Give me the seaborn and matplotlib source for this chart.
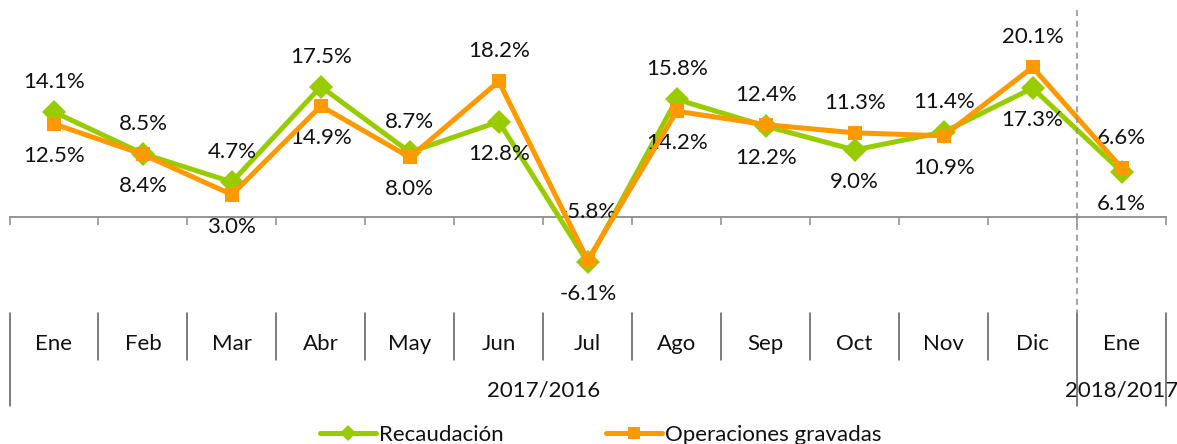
import matplotlib
matplotlib.use("Agg")
import matplotlib.pyplot as plt
import matplotlib.transforms as mtransforms
from matplotlib.lines import Line2D
import seaborn as sns
import pandas as pd

# Monthly year-on-year growth (%)
months = ["Ene", "Feb", "Mar", "Abr", "May", "Jun", "Jul",
          "Ago", "Sep", "Oct", "Nov", "Dic", "Ene"]
periods = ["2017/2016", "2018/2017"]
period_sizes = [12, 1]
recaudacion = [14.1, 8.5, 4.7, 17.5, 8.7, 12.8, -6.1, 15.8, 12.2, 9.0, 11.4, 17.3, 6.1]
operaciones = [12.5, 8.4, 3.0, 14.9, 8.0, 18.2, -5.8, 14.2, 12.4, 11.3, 10.9, 20.1, 6.6]

series_names = ["Recaudación", "Operaciones gravadas"]
green = "#99CC00"
orange = "#FF9900"
axis_grey = "#8C8C8C"
sep_grey = "#595959"
text_col = "#111111"

sns.set_theme(style="white")
plt.rcParams["font.family"] = ["Lato", "DejaVu Sans"]
FS = 16

W, H = 1177, 444
fig = plt.figure(figsize=(W / 100, H / 100), dpi=100)
ax = fig.add_axes([9.5 / W, (H - 300) / H, (1166 - 9.5) / W, 300 / H])

df = pd.DataFrame({
    "pos": list(range(len(months))),
    "rec": recaudacion,
    "ope": operaciones,
})

sns.lineplot(data=df, x="pos", y="rec", ax=ax, color=green, lw=3.6,
             marker="D", markersize=12, markeredgewidth=0,
             label=series_names[0], zorder=3)
sns.lineplot(data=df, x="pos", y="ope", ax=ax, color=orange, lw=3.6,
             marker="s", markersize=9.5, markeredgewidth=0,
             label=series_names[1], zorder=4)

n = len(months)
ax.set_xlim(-0.5, n - 0.5)
ax.set_ylim(-11.14, 29.13)

# Axis at zero with boundary ticks, no labels
for s in ["top", "right", "left"]:
    ax.spines[s].set_visible(False)
ax.spines["bottom"].set_position(("data", 0))
ax.spines["bottom"].set_color(axis_grey)
ax.spines["bottom"].set_linewidth(1.3)
ax.set_xticks([i - 0.5 for i in range(n + 1)])
ax.set_xticklabels([])
ax.tick_params(axis="x", direction="out", length=6, width=1.1,
               color=axis_grey, bottom=True)
ax.set_yticks([])
ax.set_xlabel("")
ax.set_ylabel("")

# Value labels: the higher value above its point, the lower one below;
# labels above negative points sit higher so they clear the line
for i in range(n):
    a, b = recaudacion[i], operaciones[i]
    hi, lo = (a, b) if a >= b else (b, a)
    up = 48 if hi < 0 else 30
    ax.annotate(f"{hi:.1f}%", (i, hi), xytext=(0, up), textcoords="offset pixels",
                ha="center", va="center", fontsize=FS, color=text_col)
    ax.annotate(f"{lo:.1f}%", (i, lo), xytext=(0, -32), textcoords="offset pixels",
                ha="center", va="center", fontsize=FS, color=text_col)

# Category table below the plot
tr = mtransforms.blended_transform_factory(ax.transData, fig.transFigure)
fy = lambda py: 1 - py / H
for i, m in enumerate(months):
    ax.text(i, fy(344), m, transform=tr, ha="center", va="center",
            fontsize=FS, color=text_col, clip_on=False)

# month separators
group_edges = [-0.5]
for sz in period_sizes:
    group_edges.append(group_edges[-1] + sz)
for k in range(n + 1):
    x = k - 0.5
    if x in group_edges:
        y0, y1 = fy(313), fy(406)
    else:
        y0, y1 = fy(313), fy(360)
    fig.add_artist(Line2D([x, x], [y0, y1], transform=tr, color=sep_grey, lw=1.1))

for g, name in enumerate(periods):
    xc = (group_edges[g] + group_edges[g + 1]) / 2
    ax.text(xc, fy(390), name, transform=tr, ha="center", va="center",
            fontsize=FS, color=text_col, clip_on=False)

# dashed divider between years
xd = group_edges[1]
fig.add_artist(Line2D([xd, xd], [fy(10), fy(313)], transform=tr,
                      color="#8C8C8C", lw=1.1, ls=(0, (4, 3))))

sns.move_legend(ax, "center", bbox_to_anchor=(601 / W, (H - 435) / H),
                bbox_transform=fig.transFigure, ncol=2, frameon=False,
                fontsize=FS, handlelength=2.5, handletextpad=0.15,
                columnspacing=4.6, title=None)
leg = ax.get_legend()
for h in leg.legend_handles:
    h.set_markersize(8)
for t in leg.get_texts():
    t.set_color(text_col)

fig.savefig("out.png", dpi=100)
